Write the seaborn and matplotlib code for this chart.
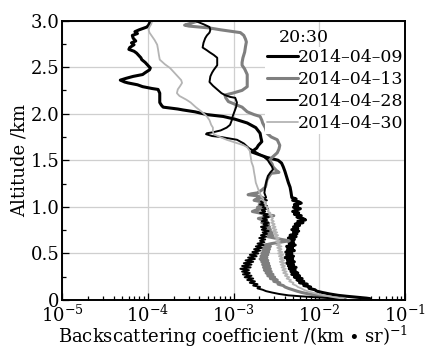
import numpy as np
import pandas as pd
import matplotlib
matplotlib.use("Agg")
import matplotlib.pyplot as plt
from matplotlib.ticker import MultipleLocator, LogLocator, NullFormatter
import seaborn as sns

# ---------------- data (altitude in km, log10 of backscattering coefficient) ----------------
labels = ["2014–04–09", "2014–04–13", "2014–04–28", "2014–04–30"]

# shared altitude grid of the noisy lower layer and of the near-ground tail
alt_low = [1.100, 1.085, 1.070, 1.055, 1.040, 1.025, 1.010, 0.995, 0.980, 0.965, 0.950, 0.935, 0.920, 0.905,
           0.890, 0.875, 0.860, 0.845, 0.830, 0.815, 0.800, 0.785, 0.770, 0.755, 0.740, 0.725, 0.710, 0.695,
           0.680, 0.665, 0.650, 0.635, 0.620, 0.605, 0.590, 0.575, 0.560, 0.545, 0.530, 0.515, 0.500, 0.485,
           0.470, 0.455, 0.440, 0.425, 0.410, 0.395, 0.380, 0.365, 0.350, 0.335, 0.320, 0.305, 0.290, 0.275,
           0.260, 0.245, 0.230, 0.215, 0.200, 0.185, 0.170, 0.155, 0.140, 0.125, 0.110]
alt_tail = [0.095, 0.080, 0.065, 0.050, 0.040, 0.030, 0.020, 0.015]

# 2014-04-09
alt_up_0409 = [2.99, 2.95, 2.93, 2.90, 2.88, 2.86, 2.84, 2.81, 2.78, 2.76, 2.74, 2.71, 2.69, 2.67, 2.65, 2.63,
               2.60, 2.58, 2.55, 2.52, 2.49, 2.47, 2.44, 2.42, 2.40, 2.38, 2.36, 2.34, 2.33, 2.31, 2.29, 2.27,
               2.26, 2.22, 2.18, 2.15, 2.12, 2.09, 2.07, 2.05, 2.04, 2.02, 1.99, 1.97, 1.94, 1.90, 1.85, 1.79,
               1.74, 1.70, 1.66, 1.63, 1.59, 1.56, 1.53, 1.51, 1.50, 1.47, 1.43, 1.38, 1.32, 1.26, 1.21, 1.16]
lg_up_0409 = [-3.97, -3.99, -4.01, -4.10, -4.15, -4.12, -4.18, -4.17, -4.14, -4.19, -4.16, -4.21, -4.22, -4.16, -4.13, -4.11,
              -4.08, -4.07, -4.03, -4.00, -3.97, -3.98, -4.03, -4.06, -4.17, -4.25, -4.32, -4.27, -4.23, -4.12, -4.06, -3.95,
              -3.88, -3.86, -3.86, -3.86, -3.86, -3.84, -3.82, -3.65, -3.59, -3.45, -3.31, -3.12, -2.98, -2.84, -2.74, -2.69,
              -2.68, -2.67, -2.71, -2.73, -2.79, -2.70, -2.61, -2.52, -2.48, -2.44, -2.42, -2.40, -2.38, -2.36, -2.34, -2.33]
lg_low_0409 = [-2.32, -2.27, -2.31, -2.24, -2.21, -2.29, -2.25, -2.30, -2.22, -2.27, -2.31, -2.24, -2.29, -2.21,
               -2.26, -2.19, -2.16, -2.25, -2.19, -2.28, -2.23, -2.30, -2.25, -2.32, -2.24, -2.30, -2.26, -2.34,
               -2.27, -2.36, -2.29, -2.37, -2.30, -2.35, -2.28, -2.38, -2.31, -2.37, -2.29, -2.39, -2.32, -2.38,
               -2.30, -2.40, -2.31, -2.37, -2.29, -2.38, -2.30, -2.36, -2.27, -2.35, -2.28, -2.33, -2.25, -2.32,
               -2.23, -2.29, -2.20, -2.26, -2.18, -2.23, -2.14, -2.18, -2.10, -2.12, -2.05]
lg_tail_0409 = [-2.03, -1.96, -1.88, -1.78, -1.68, -1.56, -1.45, -1.41]

# 2014-04-13
alt_up_0413 = [2.99, 2.97, 2.95, 2.94, 2.93, 2.92, 2.90, 2.88, 2.87, 2.84, 2.80, 2.77, 2.72, 2.66, 2.60, 2.55,
               2.52, 2.48, 2.42, 2.36, 2.29, 2.25, 2.22, 2.20, 2.17, 2.13, 2.10, 2.07, 2.02, 1.99, 1.97, 1.93,
               1.90, 1.85, 1.79, 1.75, 1.72, 1.66, 1.62, 1.58, 1.53, 1.50, 1.46, 1.43, 1.39, 1.37, 1.36, 1.32,
               1.29, 1.24, 1.21, 1.18, 1.15, 1.14, 1.13, 1.12]
lg_up_0413 = [-3.43, -3.50, -3.57, -3.52, -3.40, -3.28, -3.15, -3.00, -2.92, -2.88, -2.86, -2.85, -2.86, -2.87, -2.89, -2.90,
              -2.90, -2.87, -2.84, -2.84, -2.84, -2.90, -3.01, -3.10, -3.09, -3.06, -2.98, -2.90, -2.84, -2.76, -2.69, -2.67,
              -2.66, -2.63, -2.61, -2.56, -2.49, -2.46, -2.47, -2.49, -2.55, -2.58, -2.55, -2.54, -2.50, -2.47, -2.56, -2.59,
              -2.61, -2.62, -2.63, -2.67, -2.72, -2.79, -2.83, -2.74]
lg_low_0413 = [-2.66, -2.73, -2.76, -2.68, -2.63, -2.70, -2.66, -2.72, -2.67, -2.74, -2.78, -2.70, -2.64, -2.53,
               -2.62, -2.71, -2.66, -2.61, -2.67, -2.59, -2.64, -2.58, -2.63, -2.57, -2.62, -2.55, -2.61, -2.54,
               -2.60, -2.52, -2.44, -2.35, -2.46, -2.56, -2.63, -2.57, -2.65, -2.58, -2.66, -2.59, -2.67, -2.60,
               -2.68, -2.61, -2.69, -2.60, -2.67, -2.59, -2.66, -2.58, -2.65, -2.57, -2.64, -2.56, -2.62, -2.54,
               -2.60, -2.52, -2.57, -2.49, -2.53, -2.46, -2.48, -2.42, -2.40, -2.36, -2.31]
lg_tail_0413 = [-2.26, -2.20, -2.12, -2.04, -1.97, -1.88, -1.78, -1.70]

# 2014-04-28
alt_up_0428 = [2.99, 2.96, 2.93, 2.90, 2.87, 2.84, 2.81, 2.76, 2.71, 2.68, 2.66, 2.63, 2.60, 2.55, 2.52, 2.47,
               2.44, 2.40, 2.34, 2.30, 2.26, 2.22, 2.20, 2.18, 2.17, 2.12, 2.07, 2.02, 1.97, 1.93, 1.88, 1.85,
               1.82, 1.80, 1.79, 1.78, 1.76, 1.75, 1.73, 1.72, 1.68, 1.63, 1.61, 1.56, 1.54, 1.50, 1.47, 1.43,
               1.40, 1.37, 1.33, 1.29, 1.26, 1.21, 1.15]
lg_up_0428 = [-3.43, -3.35, -3.28, -3.27, -3.28, -3.31, -3.33, -3.35, -3.36, -3.31, -3.28, -3.23, -3.19, -3.19, -3.19, -3.23,
              -3.25, -3.27, -3.28, -3.24, -3.19, -3.14, -3.10, -3.04, -2.98, -2.96, -2.97, -2.99, -3.01, -3.02, -3.04, -3.08,
              -3.15, -3.24, -3.31, -3.32, -3.25, -3.15, -3.02, -2.96, -2.88, -2.82, -2.78, -2.69, -2.65, -2.60, -2.58, -2.55,
              -2.54, -2.57, -2.60, -2.61, -2.62, -2.63, -2.64]
lg_low_0428 = [-2.62, -2.66, -2.61, -2.68, -2.64, -2.69, -2.61, -2.66, -2.60, -2.67, -2.63, -2.69, -2.60, -2.65,
               -2.59, -2.66, -2.61, -2.67, -2.59, -2.65, -2.60, -2.68, -2.62, -2.67, -2.59, -2.66, -2.61, -2.68,
               -2.62, -2.70, -2.63, -2.69, -2.64, -2.72, -2.65, -2.74, -2.67, -2.76, -2.69, -2.78, -2.71, -2.81,
               -2.73, -2.83, -2.75, -2.86, -2.77, -2.88, -2.79, -2.90, -2.80, -2.92, -2.82, -2.90, -2.81, -2.89,
               -2.79, -2.87, -2.77, -2.84, -2.75, -2.81, -2.72, -2.77, -2.69, -2.72, -2.66]
lg_tail_0428 = [-2.62, -2.55, -2.47, -2.36, -2.22, -2.06, -1.88, -1.76]

# 2014-04-30
alt_up_0430 = [2.99, 2.96, 2.93, 2.90, 2.87, 2.83, 2.79, 2.74, 2.69, 2.63, 2.58, 2.53, 2.49, 2.45, 2.40, 2.36,
               2.33, 2.30, 2.26, 2.22, 2.19, 2.15, 2.12, 2.07, 2.02, 1.97, 1.93, 1.88, 1.85, 1.81, 1.78, 1.75,
               1.72, 1.69, 1.66, 1.64, 1.60, 1.54, 1.48, 1.43, 1.37, 1.32, 1.26, 1.21, 1.16]
lg_up_0430 = [-3.95, -3.96, -3.98, -3.99, -3.98, -3.95, -3.92, -3.89, -3.88, -3.87, -3.86, -3.80, -3.74, -3.70, -3.65, -3.61,
              -3.60, -3.62, -3.65, -3.66, -3.63, -3.55, -3.50, -3.44, -3.37, -3.31, -3.28, -3.26, -3.24, -3.24, -3.23, -3.16,
              -3.08, -2.98, -2.88, -2.84, -2.81, -2.80, -2.79, -2.77, -2.76, -2.75, -2.74, -2.72, -2.70]
lg_low_0430 = [-2.67, -2.65, -2.66, -2.63, -2.64, -2.62, -2.63, -2.60, -2.61, -2.59, -2.60, -2.57, -2.58, -2.55,
               -2.56, -2.54, -2.56, -2.53, -2.56, -2.52, -2.55, -2.51, -2.55, -2.50, -2.54, -2.49, -2.53, -2.48,
               -2.52, -2.47, -2.51, -2.46, -2.50, -2.45, -2.50, -2.44, -2.49, -2.44, -2.48, -2.43, -2.48, -2.42,
               -2.47, -2.42, -2.46, -2.41, -2.46, -2.40, -2.45, -2.40, -2.44, -2.39, -2.43, -2.38, -2.42, -2.37,
               -2.40, -2.35, -2.38, -2.33, -2.35, -2.30, -2.31, -2.27, -2.25, -2.21, -2.18]
lg_tail_0430 = [-2.14, -2.08, -2.02, -1.95, -1.89, -1.83, -1.76, -1.72]

x_ticks = [1e-5, 1e-4, 1e-3, 1e-2, 1e-1]
x_tick_labels = [r"$10^{-5}$", r"$10^{-4}$", r"$10^{-3}$", r"$10^{-2}$", r"$10^{-1}$"]
y_ticks = [0, 0.5, 1.0, 1.5, 2.0, 2.5, 3.0]
y_tick_labels = ["0", "0.5", "1.0", "1.5", "2.0", "2.5", "3.0"]

# ---------------- build long table ----------------
series = [
    (alt_up_0409, lg_up_0409, lg_low_0409, lg_tail_0409),
    (alt_up_0413, lg_up_0413, lg_low_0413, lg_tail_0413),
    (alt_up_0428, lg_up_0428, lg_low_0428, lg_tail_0428),
    (alt_up_0430, lg_up_0430, lg_low_0430, lg_tail_0430),
]
frames = []
for lab, (au, lu, ll, lt) in zip(labels, series):
    a = list(au) + alt_low + alt_tail
    l = list(lu) + ll + lt
    frames.append(pd.DataFrame({"date": lab, "alt": a, "beta": np.power(10.0, np.array(l))}))
df = pd.concat(frames, ignore_index=True)

# ---------------- styling ----------------
sns.set_theme(style="ticks")
plt.rcParams["font.family"] = ["DejaVu Serif"]
plt.rcParams["mathtext.fontset"] = "dejavuserif"
for k in ["text.color", "axes.labelcolor", "xtick.color", "ytick.color", "axes.edgecolor"]:
    plt.rcParams[k] = "black"

colors = dict(zip(labels, ["#000000", "#7f7f7f", "#000000", "#b4b4b4"]))
widths = dict(zip(labels, [2.2, 2.2, 1.4, 1.3]))

fig = plt.figure(figsize=(4.25, 3.46), dpi=100)
ax = fig.add_axes([62 / 425, 46 / 346, 343 / 425, 279.5 / 346])

for lab in labels:
    sub = df[df["date"] == lab]
    sns.lineplot(data=sub, x="beta", y="alt", sort=False, estimator=None, ax=ax,
                 color=colors[lab], linewidth=widths[lab], label=lab)

ax.set_xscale("log")
ax.set_xlim(1e-5, 1e-1)
ax.set_ylim(0, 3.0)
ax.set_xticks(x_ticks)
ax.set_xticklabels(x_tick_labels)
ax.xaxis.set_minor_locator(LogLocator(base=10, subs=np.arange(2, 10), numticks=20))
ax.xaxis.set_minor_formatter(NullFormatter())
ax.set_yticks(y_ticks)
ax.set_yticklabels(y_tick_labels)
ax.yaxis.set_minor_locator(MultipleLocator(0.25))

ax.grid(True, which="major", color="#cfcfcf", linewidth=0.9)
ax.set_axisbelow(True)
ax.tick_params(which="both", direction="in", top=False, right=False, labelsize=13, width=0.9)
ax.tick_params(axis="y", pad=2)
ax.tick_params(axis="x", pad=3)
ax.tick_params(which="major", length=5)
ax.tick_params(which="minor", length=3)
for s in ax.spines.values():
    s.set_linewidth(1.4)
    s.set_zorder(8)

ax.set_xlabel(r"Backscattering coefficient /(km $\bullet$ sr)$^{-1}$", fontsize=13, fontstretch="semi-condensed",
              labelpad=-1)
ax.set_ylabel("Altitude /km", fontsize=13, labelpad=1)

leg = ax.legend(loc="upper right", bbox_to_anchor=(1.0, 0.905), frameon=True, facecolor="white",
                edgecolor="none", framealpha=1.0, fontsize=12.5, handlelength=1.8, handletextpad=0.0,
                labelspacing=0.3, borderpad=0.1, borderaxespad=0.0, fancybox=False)
leg.set_zorder(6)
ax.text(0.633, 0.938, "20:30", transform=ax.transAxes, fontsize=12.5, va="center", ha="left", zorder=10)

fig.savefig("out.png", dpi=100)
